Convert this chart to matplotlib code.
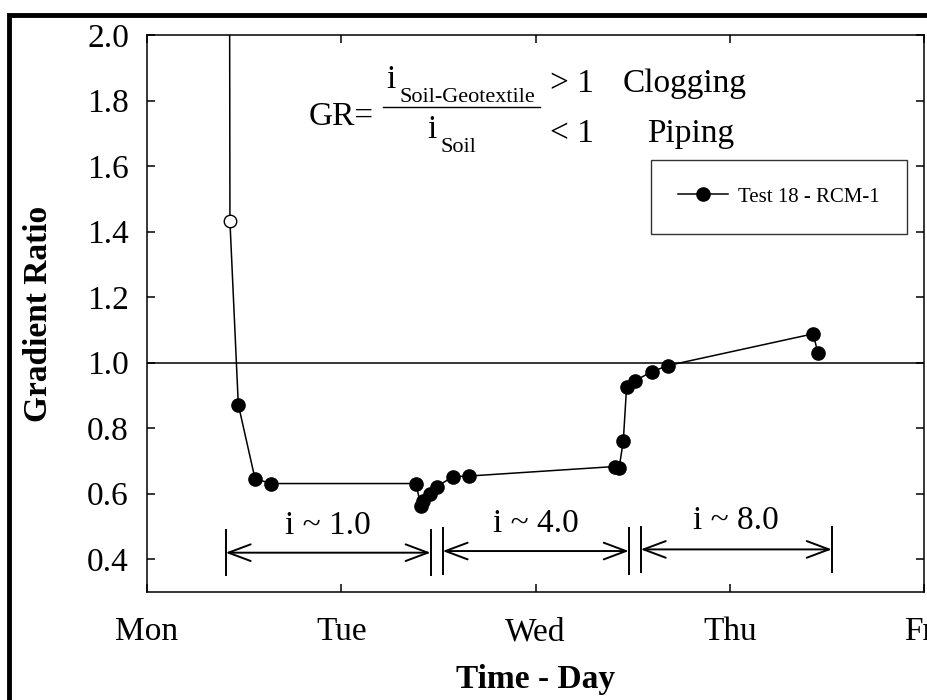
import matplotlib
matplotlib.use('Agg')
import matplotlib.pyplot as plt
from matplotlib.lines import Line2D
from matplotlib.patches import Rectangle

plt.rcParams['font.family'] = ['Liberation Serif', 'DejaVu Serif']

# data: time in days from Monday, gradient ratio
time_day = [0.424, 0.427, 0.470, 0.556, 0.638, 1.385, 1.409, 1.421, 1.457, 1.491,
            1.574, 1.659, 2.409, 2.430, 2.452, 2.469, 2.512, 2.598, 2.681, 3.430, 3.453]
gr = [2.60, 1.431, 0.872, 0.646, 0.631, 0.631, 0.563, 0.578, 0.599, 0.621,
      0.652, 0.654, 0.683, 0.677, 0.761, 0.927, 0.945, 0.972, 0.991, 1.088, 1.030]
open_idx = [1]
filled_idx = list(range(2, len(time_day)))

day_labels = ['Mon', 'Tue', 'Wed', 'Thu', 'Fri']
y_ticks = [0.4, 0.6, 0.8, 1.0, 1.2, 1.4, 1.6, 1.8, 2.0]

# hydraulic gradient stages
stage_start = [0.405, 1.522, 2.542]
stage_end = [1.460, 2.480, 3.525]
stage_y = [0.420, 0.425, 0.430]
stage_label = ['i ~ 1.0', 'i ~ 4.0', 'i ~ 8.0']
stage_label_y = [0.478, 0.484, 0.491]

fig = plt.figure(figsize=(9.27, 7.0), dpi=100)
ax = fig.add_axes([147/927, 1 - 592/700, 777/927, 557/700])

ax.plot(time_day, gr, color='black', lw=1.1, marker='o', markersize=9.5,
        markevery=filled_idx, markerfacecolor='black', markeredgecolor='black',
        zorder=3)
ax.plot([time_day[i] for i in open_idx], [gr[i] for i in open_idx], 'o',
        markersize=9, markerfacecolor='white', markeredgecolor='black',
        markeredgewidth=1.0, zorder=4)
ax.axhline(1.0, color='black', lw=1.1, zorder=2)

# stage arrows
for x0, x1, y, lab, ly in zip(stage_start, stage_end, stage_y, stage_label, stage_label_y):
    ax.annotate('', xy=(x1, y), xytext=(x0, y),
                arrowprops=dict(arrowstyle='<->,head_length=0.8,head_width=0.3',
                                lw=1.4, color='black', shrinkA=0, shrinkB=0,
                                mutation_scale=20))
    ax.vlines([x0, x1], y - 0.072, y + 0.072, color='black', lw=1.4)
    ax.text((x0 + x1) / 2, ly, lab, ha='center', va='baseline', fontsize=24)

ax.set_xlim(0, 4)
ax.set_ylim(0.3, 2.0)
ax.set_xticks(range(5))
ax.set_xticklabels(day_labels)
ax.set_yticks(y_ticks)
ax.set_yticklabels(['%.1f' % v for v in y_ticks])
ax.tick_params(direction='in', length=6, width=1.1, labelsize=24,
               top=True, right=True)
ax.tick_params(axis='x', pad=18)
ax.tick_params(axis='y', pad=13)
for s in ax.spines.values():
    s.set_linewidth(1.1)

ax.set_xlabel('Time - Day', fontsize=24, fontweight='bold', labelpad=12)
ax.set_ylabel('Gradient Ratio', fontsize=24, fontweight='bold', labelpad=24)

# GR formula
ax.text(0.2085, 0.8384, 'GR=', transform=ax.transAxes, fontsize=24, va='baseline')
ax.plot([0.3037, 0.5058], [0.8713, 0.8713], transform=ax.transAxes,
        color='black', lw=1.0, clip_on=False)
ax.text(0.3076, 0.9048, 'i', transform=ax.transAxes, fontsize=24, va='baseline')
ax.text(0.3256, 0.8797, 'Soil-Geotextile', transform=ax.transAxes, fontsize=16,
        va='baseline')
ax.text(0.3604, 0.8151, 'i', transform=ax.transAxes, fontsize=24, va='baseline')
ax.text(0.3780, 0.7900, 'Soil', transform=ax.transAxes, fontsize=16, va='baseline')
ax.text(0.5187, 0.8977, '> 1', transform=ax.transAxes, fontsize=24, va='baseline')
ax.text(0.6126, 0.8977, 'Clogging', transform=ax.transAxes, fontsize=24, va='baseline')
ax.text(0.5187, 0.8079, '< 1', transform=ax.transAxes, fontsize=24, va='baseline')
ax.text(0.6435, 0.8079, 'Piping', transform=ax.transAxes, fontsize=24, va='baseline')

handle = Line2D([], [], color='black', lw=1.1, marker='o', markersize=9.5,
                markerfacecolor='black')
leg = ax.legend([handle], ['Test 18 - RCM-1'], loc='upper right',
                bbox_to_anchor=(0.9781, 0.7756), borderaxespad=0, fontsize=15,
                fancybox=False, framealpha=1, edgecolor='#333333',
                borderpad=1.3, handlelength=2.4, handletextpad=0.5)
leg.get_frame().set_linewidth(1.0)

# outer frame
fig.patches.append(Rectangle((9/927, -0.1), 1.2, 1.1 - 15/700, transform=fig.transFigure,
                             fill=False, edgecolor='black', lw=3.5, clip_on=False))

fig.savefig('out.png', dpi=100)
